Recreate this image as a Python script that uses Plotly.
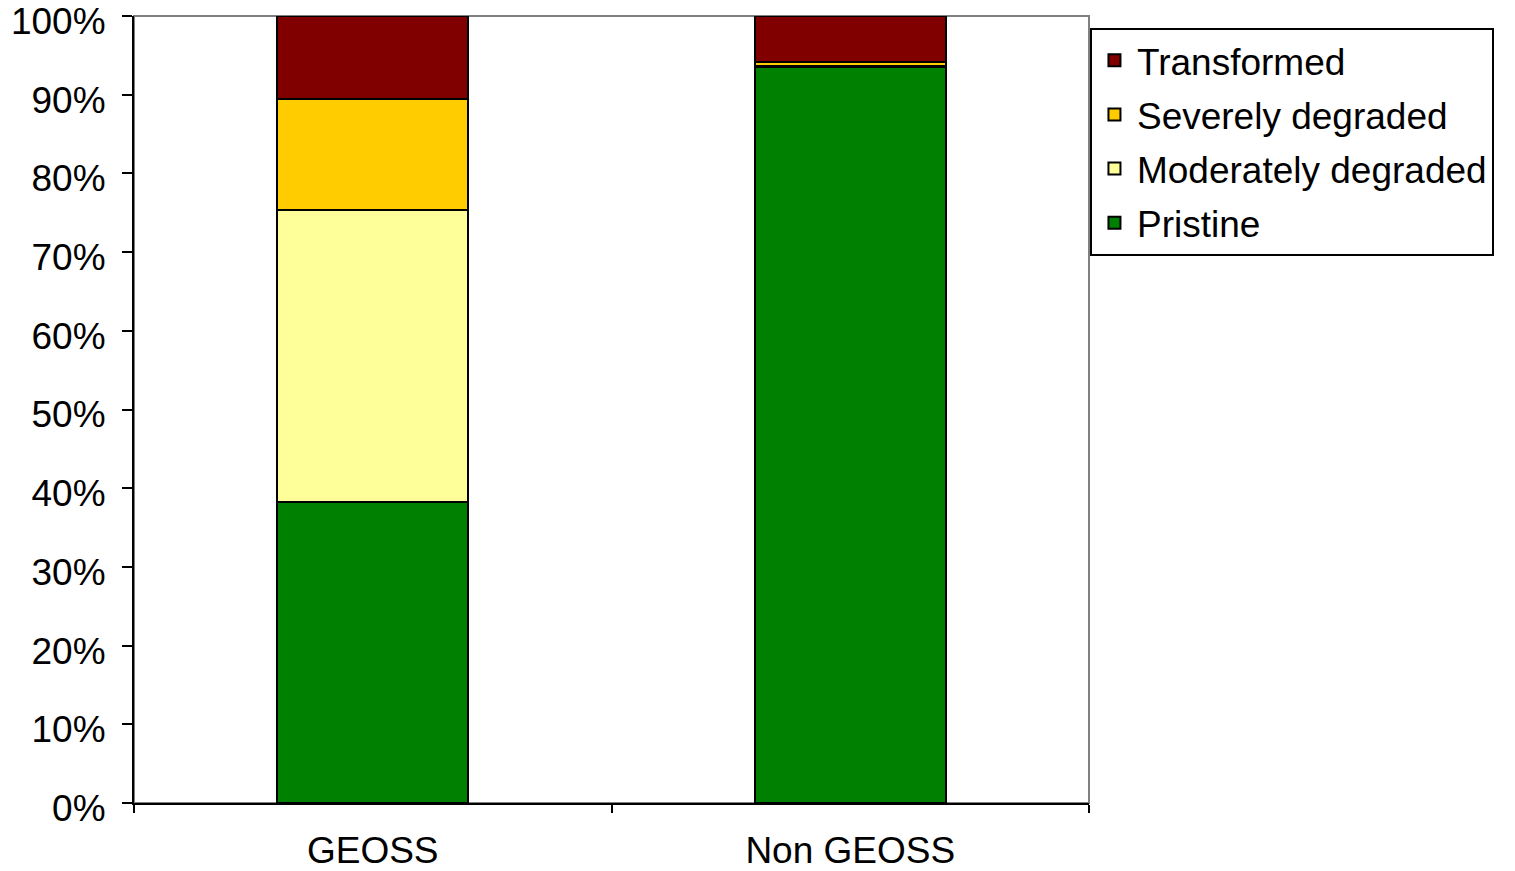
import plotly.graph_objects as go

categories = ["GEOSS", "Non GEOSS"]
series_names = ["Pristine", "Moderately degraded", "Severely degraded", "Transformed"]
pristine = [38.2, 93.5]
moderately = [37.1, 0.1]
severely = [14.2, 0.5]
transformed = [10.5, 5.9]
colors = ["#008000", "#FFFF99", "#FFCC00", "#800000"]
y_ticks = [0, 10, 20, 30, 40, 50, 60, 70, 80, 90, 100]
y_tick_labels = [f"{v}%" for v in y_ticks]

values = [pristine, moderately, severely, transformed]
FONT = "Liberation Sans, Arial, sans-serif"

fig = go.Figure()
for i, (name, vals, col) in enumerate(zip(series_names, values, colors)):
    fig.add_trace(go.Bar(
        x=categories, y=vals, name=name,
        marker=dict(color=col, line=dict(color="black", width=2)),
        width=0.4, legendgroup=f"g{i}", legendrank=100 - i,
    ))

fig.update_layout(
    barmode="stack",
    width=1515, height=871,
    margin=dict(l=134, r=426, t=16, b=68),
    plot_bgcolor="white", paper_bgcolor="white",
    font=dict(family=FONT, size=37, color="black"),
    legend=dict(
        x=1.001, xanchor="left", y=0.985, yanchor="top",
        traceorder="grouped", tracegroupgap=3, itemwidth=35,
        bordercolor="black", borderwidth=2,
        font=dict(family=FONT, size=37, color="black"),
        bgcolor="white",
    ),
    shapes=[dict(type="rect", xref="paper", yref="paper", x0=0, x1=1, y0=0, y1=1,
                 line=dict(color="#808080", width=2), layer="below")],
)
fig.update_xaxes(
    type="category", tickson="boundaries", ticks="outside", ticklen=8, tickwidth=2,
    tickcolor="black", showline=True, linecolor="black", linewidth=2,
    showgrid=False, ticklabelstandoff=14, range=[-0.5, 1.5], automargin=False,
    ticklabeloverflow="allow",
)
fig.update_yaxes(
    range=[0, 100], tickvals=y_ticks, ticktext=y_tick_labels,
    ticks="outside", ticklen=10, tickwidth=2, tickcolor="black",
    showline=True, linecolor="black", linewidth=2, showgrid=False,
    ticklabelstandoff=9, ticklabelshift=5, zeroline=False, automargin=False,
    ticklabeloverflow="allow",
)
fig.write_html("out.html")
